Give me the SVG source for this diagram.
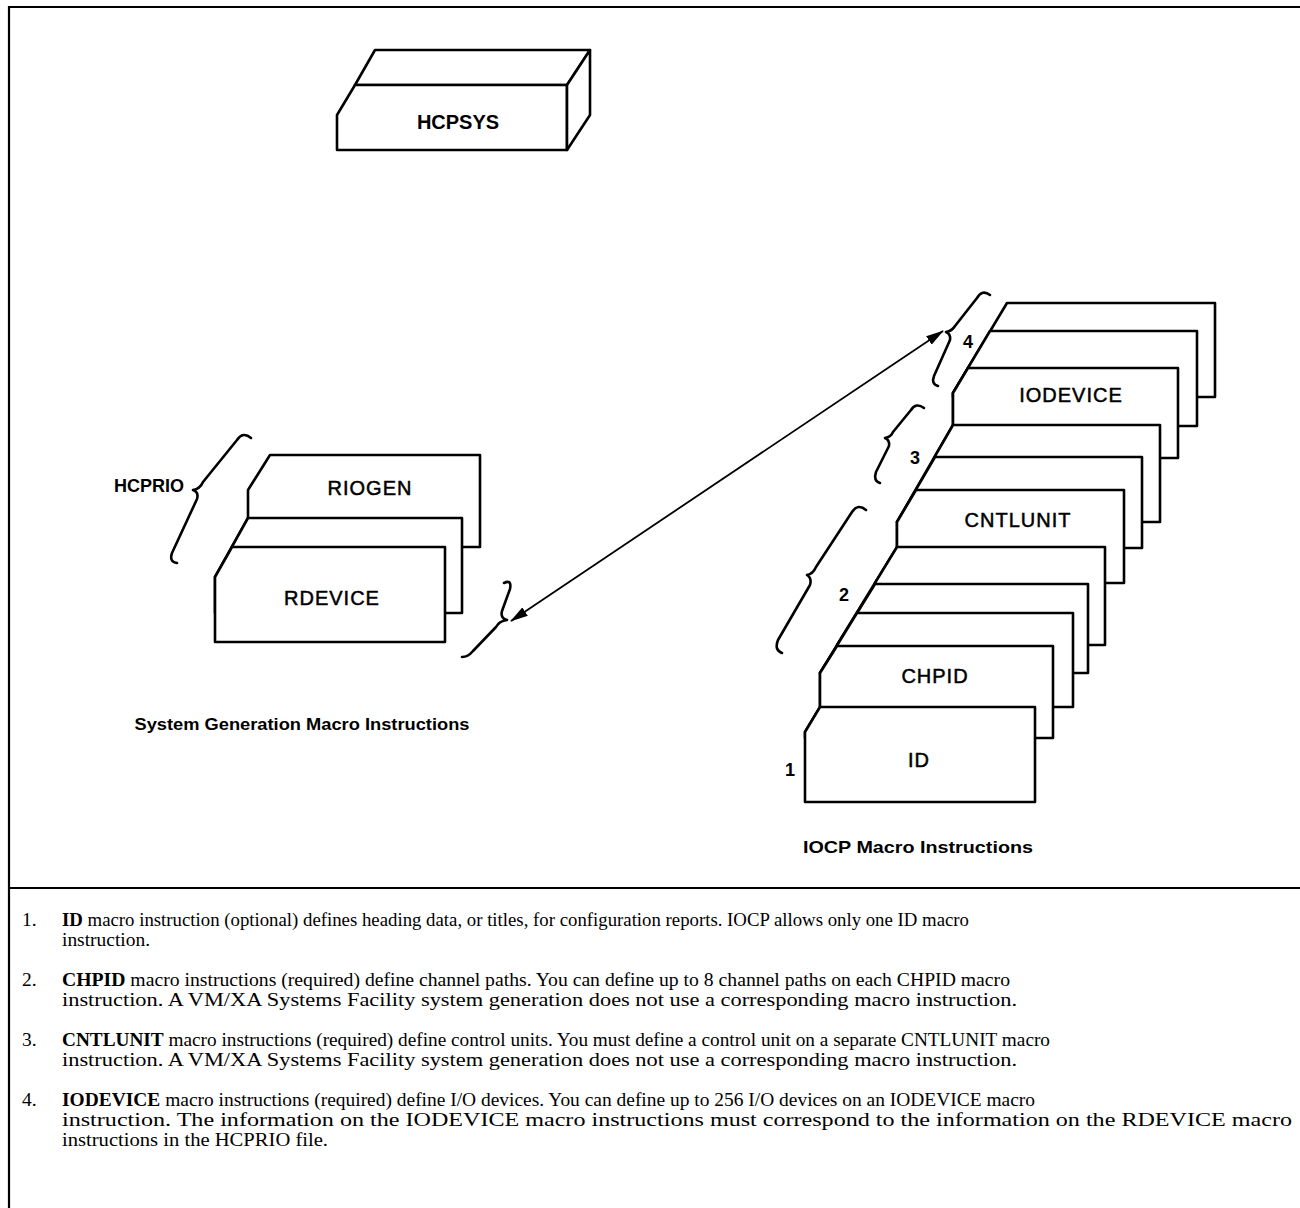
<svg xmlns="http://www.w3.org/2000/svg" width="1300" height="1208" viewBox="0 0 1300 1208">
<defs>
<style>
.frame{fill:none;stroke:#000;stroke-width:2.2}
.box{fill:#fff;stroke:#000;stroke-width:2.6;stroke-linejoin:round}
.lbl{font-family:"Liberation Sans",Arial,sans-serif;font-size:20px;text-anchor:middle;fill:#000;stroke:#000;stroke-width:0.5;letter-spacing:1px}
.hb{font-family:"Liberation Sans",Arial,sans-serif;font-weight:bold;fill:#000}
.brace{fill:none;stroke:#000;stroke-width:2.6;stroke-linecap:round;stroke-linejoin:round}
.note{font-family:"Liberation Serif","Times New Roman",serif;font-size:19.5px;fill:#000}
.note tspan.b{font-weight:bold}
</style>
<marker id="ah" viewBox="0 0 18 10" refX="17" refY="5" markerWidth="18" markerHeight="10" markerUnits="userSpaceOnUse" orient="auto-start-reverse">
<path d="M0,0 L18,5 L0,10 Z" fill="#000"/>
</marker>
</defs>
<rect width="1300" height="1208" fill="#fff"/>
<g id="frame">
<path class="frame" d="M9,1208 L9,7 L1300,7"/>
<path class="frame" d="M9,888 L1300,888"/>
</g>

<g id="hcpsys">
<polygon class="box" points="375,50 590,50 567,85 355,85"/>
<polygon class="box" points="337,115 355,85 567,85 567,150 337,150"/>
<polygon class="box" points="590,50 590,115 567,150 567,85"/>
<text class="hb" x="458" y="129" font-size="20" text-anchor="middle">HCPSYS</text>
</g>

<g id="hcprio">
<g id="riogen">
<polygon class="box" points="270,455 480,455 480,547 232,547 248,518 248,490"/>
<text class="lbl" x="370" y="495">RIOGEN</text>
</g>
<g id="rdevice-back">
<polygon class="box" points="248,518 462,518 462,613 215,613 215,577"/>
</g>
<g id="rdevice">
<polygon class="box" points="232,547 445,547 445,642 215,642 215,577"/>
<text class="lbl" x="332" y="605">RDEVICE</text>
</g>
<g id="hcprio-label">
<text class="hb" x="149" y="492" font-size="18" text-anchor="middle">HCPRIO</text>
<path class="brace" d="M251,438 Q243,431 237,440 L203,482 Q200,489 193,490 Q199,492 197,499 L172,553 Q169,562 177,563"/>
</g>
<path class="brace" d="M504,583 Q512,579 510,589 L502,611 Q500,618 507,620 Q499,621 496,627 L473,651 Q468,657 462,657"/>
<text class="hb" x="302" y="730" font-size="17" text-anchor="middle" textLength="335" lengthAdjust="spacingAndGlyphs">System Generation Macro Instructions</text>
</g>

<g id="iocp">
<g id="iodevice-4a"><polygon class="box" points="1007,303 1215,303 1215,397 953,397 953,393"/></g>
<g id="iodevice-4b"><polygon class="box" points="990,331 1197,331 1197,426 953,426 953,393"/></g>
<g id="iodevice"><polygon class="box" points="968,368 1178,368 1178,458 934,458 953,425 953,393"/>
<text class="lbl" x="1071" y="402">IODEVICE</text></g>
<g id="cntlunit-3a"><polygon class="box" points="953,425 1160,425 1160,522 897,522"/></g>
<g id="cntlunit-3b"><polygon class="box" points="935,457 1142,457 1142,548 897,548 897,522"/></g>
<g id="cntlunit"><polygon class="box" points="916,490 1124,490 1124,583 875,583 897,547 897,522"/>
<text class="lbl" x="1018" y="527">CNTLUNIT</text></g>
<g id="chpid-2a"><polygon class="box" points="897,547 1105,547 1105,645 837,645"/></g>
<g id="chpid-2b"><polygon class="box" points="875,584 1088,584 1088,673 820,673"/></g>
<g id="chpid-2c"><polygon class="box" points="857,613 1073,613 1073,707 820,707 820,673"/></g>
<g id="chpid"><polygon class="box" points="837,646 1053,646 1053,738 805,738 805,732 820,707 820,673"/>
<text class="lbl" x="935" y="683">CHPID</text></g>
<g id="id"><polygon class="box" points="820,707 1035,707 1035,802 805,802 805,732"/>
<text class="lbl" x="919" y="767">ID</text></g>
<g id="numbers">
<text class="hb" x="790" y="776" font-size="18" text-anchor="middle">1</text>
<text class="hb" x="844" y="601" font-size="18" text-anchor="middle">2</text>
<text class="hb" x="915" y="464" font-size="18" text-anchor="middle">3</text>
<text class="hb" x="968" y="348" font-size="18" text-anchor="middle">4</text>
</g>
<g id="iocp-braces">
<path class="brace" d="M990,295 Q982,289 977,298 L955,326 Q952,331 946,332 Q951,334 950,340 L934,376 Q931,384 938,386"/>
<path class="brace" d="M924,408 Q916,402 911,410 L893,432 Q891,437 885,438 Q890,440 889,446 L876,472 Q873,481 880,483"/>
<path class="brace" d="M866,510 Q858,503 852,512 L816,567 Q813,574 807,575 Q812,578 810,585 L778,640 Q774,650 782,653"/>
</g>
<text class="hb" x="918" y="853" font-size="17" text-anchor="middle" textLength="230" lengthAdjust="spacingAndGlyphs">IOCP Macro Instructions</text>
</g>

<g id="connectors">
<line x1="511" y1="621" x2="943" y2="331" stroke="#000" stroke-width="1.8" marker-start="url(#ah)" marker-end="url(#ah)"/>
</g>

<g id="notes">
<text class="note" x="22" y="926">1.</text>
<text class="note" x="62" y="926" textLength="907" lengthAdjust="spacingAndGlyphs"><tspan class="b">ID</tspan> macro instruction (optional) defines heading data, or titles, for configuration reports. IOCP allows only one ID macro</text>
<text class="note" x="62" y="946" textLength="88" lengthAdjust="spacingAndGlyphs">instruction.</text>
<text class="note" x="22" y="986">2.</text>
<text class="note" x="62" y="986" textLength="948" lengthAdjust="spacingAndGlyphs"><tspan class="b">CHPID</tspan> macro instructions (required) define channel paths. You can define up to 8 channel paths on each CHPID macro</text>
<text class="note" x="62" y="1006" textLength="955" lengthAdjust="spacingAndGlyphs">instruction.  A VM/XA Systems Facility system generation does not use a corresponding macro instruction.</text>
<text class="note" x="22" y="1046">3.</text>
<text class="note" x="62" y="1046" textLength="988" lengthAdjust="spacingAndGlyphs"><tspan class="b">CNTLUNIT</tspan> macro instructions (required) define control units. You must define a control unit on a separate CNTLUNIT macro</text>
<text class="note" x="62" y="1066" textLength="955" lengthAdjust="spacingAndGlyphs">instruction.  A VM/XA Systems Facility system generation does not use a corresponding macro instruction.</text>
<text class="note" x="22" y="1106">4.</text>
<text class="note" x="62" y="1106" textLength="973" lengthAdjust="spacingAndGlyphs"><tspan class="b">IODEVICE</tspan> macro instructions (required) define I/O devices. You can define up to 256 I/O devices on an IODEVICE macro</text>
<text class="note" x="62" y="1126" textLength="1230" lengthAdjust="spacingAndGlyphs">instruction.  The information on the IODEVICE macro instructions must correspond to the information on the RDEVICE macro</text>
<text class="note" x="62" y="1146" textLength="266" lengthAdjust="spacingAndGlyphs">instructions in the HCPRIO file.</text>
</g>
</svg>
